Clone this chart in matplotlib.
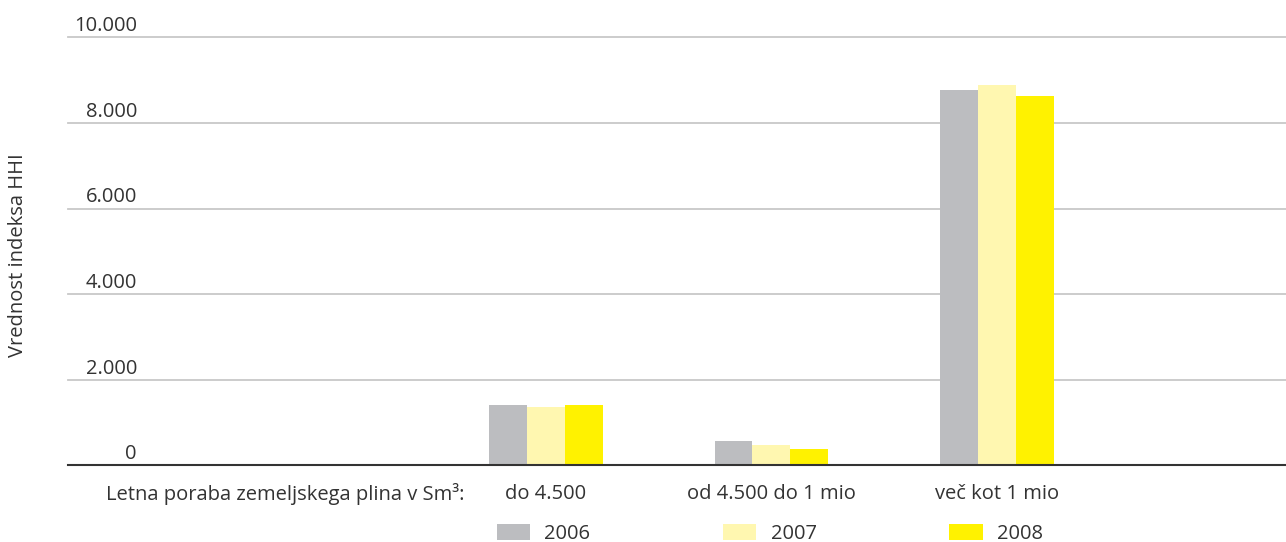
import matplotlib.pyplot as plt
import matplotlib.transforms as mtrans
import numpy as np

# podatki
kategorije = ['do 4.500', 'od 4.500 do 1 mio', 'več kot 1 mio']
leta = ['2006', '2007', '2008']
hhi_2006 = [1410, 560, 8780]
hhi_2007 = [1360, 470, 8900]
hhi_2008 = [1410, 380, 8640]
y_ticks = [0, 2000, 4000, 6000, 8000, 10000]
y_tick_labels = ['0', '2.000', '4.000', '6.000', '8.000', '10.000']

barve = ['#bcbdc0', '#fff7b0', '#fff200']
txt = '#333333'
fs = 14.5

plt.rcParams['font.family'] = ['Open Sans', 'DejaVu Sans']

fig = plt.figure(figsize=(12.86, 5.42), dpi=100)
ax = fig.add_axes([68 / 1286, 77 / 542, 1 - 68 / 1286, (465 - 37.5) / 542])

x = np.arange(1, len(kategorije) + 1)
w = 0.168
serije = [hhi_2006, hhi_2007, hhi_2008]
for i, (s, c, l) in enumerate(zip(serije, barve, leta)):
    ax.bar(x + (i - 1) * w, s, w, color=c, label=l, zorder=3)

ax.set_xlim(-1.117, 4.28)
ax.set_ylim(0, 10000)
for s in ['top', 'right', 'left']:
    ax.spines[s].set_visible(False)
ax.spines['bottom'].set_color(txt)
ax.spines['bottom'].set_linewidth(1.5)
ax.spines['bottom'].set_zorder(4)
ax.set_yticks(y_ticks[1:])
ax.yaxis.grid(True, color='#c8c8c8', linewidth=1.3)
for gl in ax.get_ygridlines():
    gl.set_clip_on(False)
ax.tick_params(axis='y', length=0, labelleft=False)
ax.tick_params(axis='x', length=0, pad=14)
ax.set_xticks(list(x))
ax.set_xticklabels(kategorije, fontsize=fs, color=txt)

# oznake osi y nad mrežo
tr = mtrans.blended_transform_factory(fig.transFigure, ax.transData)
tr = mtrans.offset_copy(tr, fig=fig, x=0, y=6, units='dots')
for v, l in zip(y_ticks, y_tick_labels):
    ax.text(137 / 1286, v, l, transform=tr, ha='right', va='baseline',
            fontsize=fs, color=txt)

fig.text(18 / 1286, 1 - 255 / 542, 'Vrednost indeksa HHI', rotation=90,
         ha='center', va='center', fontsize=fs, color=txt)
fig.text(464 / 1286, 1 - 494 / 542, 'Letna poraba zemeljskega plina v Sm³:',
         ha='right', va='center', fontsize=fs, color=txt)

leg = fig.legend(loc='center left', bbox_to_anchor=(497 / 1286, 1 - 534 / 542), ncol=3,
                 frameon=False, handlelength=1.65, handleheight=0.8, handletextpad=0.7,
                 columnspacing=6.6, fontsize=fs, borderpad=0, borderaxespad=0)
for t in leg.get_texts():
    t.set_color(txt)

fig.savefig('out.png', dpi=100)
